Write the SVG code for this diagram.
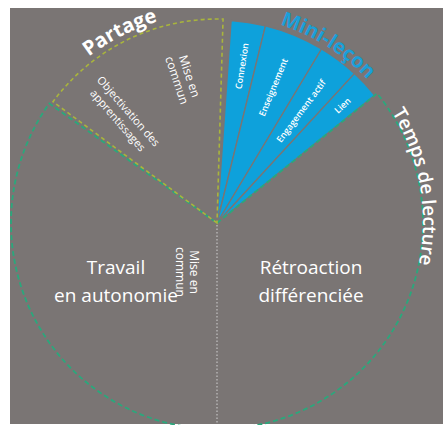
<svg xmlns="http://www.w3.org/2000/svg" width="443" height="425" viewBox="0 0 443 425">
  <style>
    .bg { fill: #7a7574; }
    .ring { fill: none; stroke: #2aa87c; stroke-width: 1.8; stroke-dasharray: 5 3; }
    .share { fill: none; stroke: #a9b53c; stroke-width: 1.6; stroke-dasharray: 4 3; }
    .slice { fill: #0ea1db; stroke: #7a7574; stroke-width: 1.3; stroke-linejoin: round; }
    .axis { fill: none; stroke: #d2d2d2; stroke-width: 1; stroke-dasharray: 1.5 2; }
    text { font-family: "Open Sans", "Liberation Sans", sans-serif; fill: #ffffff; }
    .big { font-size: 19px; text-anchor: middle; }
    .note { font-size: 12px; text-anchor: middle; dominant-baseline: central; }
    .step { font-size: 9px; font-weight: 600; text-anchor: middle; dominant-baseline: central; }
    .title { font-weight: 700; font-size: 20px; }
    .blue { fill: #1a9fd9; }
  </style>
  <defs>
    <!-- baselines for the curved headings -->
    <path id="arcShare" d="M35.13,118 A210,210 0 0 1 238.95,14.15"/>
    <path id="arcLesson" d="M217,15 A208,208 0 0 1 403.95,131.82"/>
    <path id="arcTime" d="M318.5,41 A209,209 0 0 1 374.1,356.3"/>
  </defs>

  <rect class="bg" x="10" y="8" width="433" height="416"/>

  <!-- mini-lesson slices -->
  <g id="mini-lecon">
    <g id="connexion">
      <path class="slice" d="M217,223 L231.16,20.5 A203,203 0 0 1 265.42,25.86 Z"/>
      <text class="step" transform="translate(241.6,65.9) rotate(-81.1)">Connexion</text>
    </g>
    <g id="enseignement">
      <path class="slice" d="M217,223 L265.42,25.86 A203,203 0 0 1 321.55,49 Z"/>
      <text class="step" transform="translate(273,87.1) rotate(-67.6)">Enseignement</text>
    </g>
    <g id="engagement">
      <path class="slice" d="M217,223 L321.55,49 A203,203 0 0 1 354.41,73.57 Z"/>
      <text class="step" transform="translate(300.9,110.9) rotate(-53.2)">Engagement actif</text>
    </g>
    <g id="lien">
      <path class="slice" d="M217,223 L354.41,73.57 A203,203 0 0 1 374.76,95.25 Z"/>
      <text class="step" transform="translate(342.4,105.3) rotate(-43.2)">Lien</text>
    </g>
    <text class="title blue"><textPath href="#arcLesson" startOffset="50%" text-anchor="middle">Mini-leçon</textPath></text>
  </g>

  <!-- outlines -->
  <g id="connectors">
    <path class="ring" d="M217,223 L377.1,93.4 A206,206 0 1 1 49.3,103.4 Z"/>
    <path class="share" d="M217,223 L53,101.7 A204,204 0 0 1 223.05,19.1 Z"/>
    <line class="axis" x1="217" y1="225" x2="217" y2="424"/>
  </g>

  <g id="partage">
    <text class="title"><textPath href="#arcShare" startOffset="50%" text-anchor="middle">Partage</textPath></text>
    <text class="note" transform="translate(184,78) rotate(71.6)"><tspan x="0" y="-6.6">Mise en</tspan><tspan x="0" y="6.6">commun</tspan></text>
    <text class="note" style="font-size:11px" transform="translate(124,115) rotate(49)"><tspan x="0" y="-7">Objectivation des</tspan><tspan x="0" y="7">apprentissages</tspan></text>
  </g>

  <g id="temps-de-lecture">
    <text style="font-size:19px;font-weight:600"><textPath href="#arcTime" startOffset="50%" text-anchor="middle">Temps de lecture</textPath></text>
  </g>

  <g id="travail">
    <text class="big" x="116" y="274">Travail</text>
    <text class="big" x="116" y="302">en autonomie</text>
  </g>

  <g id="mise-en-commun">
    <text class="note" transform="translate(188,272) rotate(90)"><tspan x="0" y="-7">Mise en</tspan><tspan x="0" y="7">commun</tspan></text>
  </g>

  <g id="retroaction">
    <text class="big" x="311" y="274">Rétroaction</text>
    <text class="big" x="311" y="302">différenciée</text>
  </g>
</svg>
